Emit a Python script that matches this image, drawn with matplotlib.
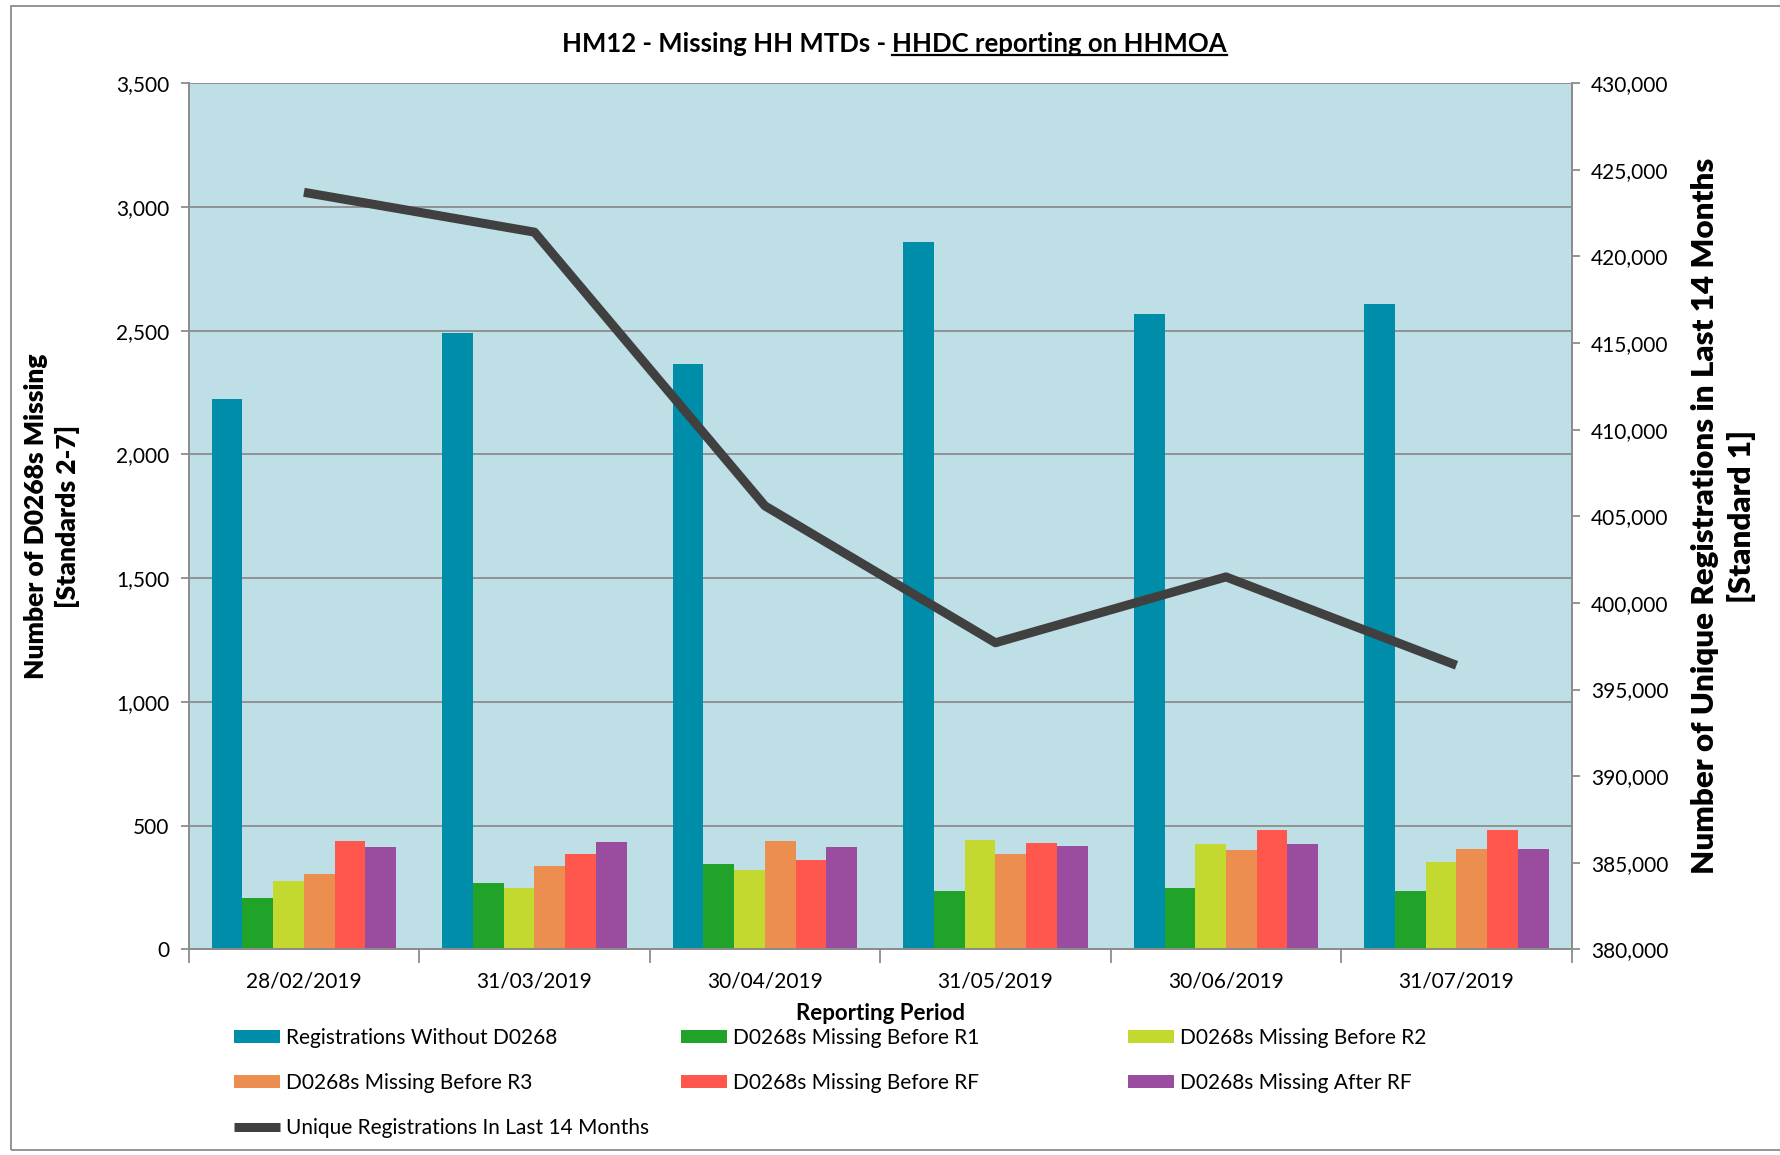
import numpy as np
import matplotlib
matplotlib.use("Agg")
import matplotlib.pyplot as plt
from matplotlib.patches import Rectangle
from matplotlib.lines import Line2D
from matplotlib.ticker import FuncFormatter, MultipleLocator

plt.rcParams['font.family'] = ['Lato', 'DejaVu Sans']

periods = ["28/02/2019", "31/03/2019", "30/04/2019", "31/05/2019", "30/06/2019", "31/07/2019"]
reg_without = [2225, 2491, 2367, 2858, 2569, 2606]
miss_r1 = [209, 268, 344, 238, 250, 238]
miss_r2 = [275, 250, 322, 443, 426, 355]
miss_r3 = [303, 339, 438, 384, 403, 407]
miss_rf = [438, 386, 362, 431, 484, 484]
miss_after_rf = [415, 433, 415, 419, 426, 407]
unique_regs = [423700, 421400, 405600, 397700, 401500, 396400]

series = [
    ("Registrations Without D0268", reg_without, "#008DA9"),
    ("D0268s Missing Before R1", miss_r1, "#21A329"),
    ("D0268s Missing Before R2", miss_r2, "#C3D930"),
    ("D0268s Missing Before R3", miss_r3, "#EC8E50"),
    ("D0268s Missing Before RF", miss_rf, "#FF574D"),
    ("D0268s Missing After RF", miss_after_rf, "#9A4C9E"),
]

fig = plt.figure(figsize=(17.8, 11.55), dpi=100)
ax = fig.add_axes([0.106, 0.178, 0.777, 0.75])
ax.set_facecolor("#BEDFE6")

x = np.arange(len(periods))
w = 0.8 / 6
handles = {}
for i, (name, vals, col) in enumerate(series):
    b = ax.bar(x - 0.4 + w * (i + 0.5), vals, w, color=col, zorder=2, label=name)
    handles[name] = b

ax.set_ylim(0, 3500)
ax.set_xlim(-0.5, len(periods) - 0.5)
ax.yaxis.set_major_locator(MultipleLocator(500))
ax.yaxis.set_major_formatter(FuncFormatter(lambda v, p: f"{int(v):,}"))
ax.grid(axis="y", color="#8C8C8C", lw=1.3, zorder=1)
ax.set_xticks(x)
ax.set_xticklabels(periods)
ax.set_xticks(np.arange(-0.5, len(periods)), minor=True)
ax.tick_params(axis="x", which="major", length=0, pad=16, labelsize=15)
ax.tick_params(axis="x", which="minor", length=10, color="#8C8C8C", width=1.3)
ax.tick_params(axis="y", length=6, color="#8C8C8C", width=1.3, labelsize=15, pad=8)
for s in ["left", "bottom", "right"]:
    ax.spines[s].set_color("#8C8C8C")
    ax.spines[s].set_linewidth(1.3)
ax.spines["top"].set_visible(False)

ax.set_ylabel("Number of D0268s Missing\n[Standards 2-7]", fontsize=19, fontweight="heavy",
              labelpad=26, linespacing=1.3)
ax.set_xlabel("Reporting Period", fontsize=16, fontweight="bold", labelpad=8)

ax2 = ax.twinx()
line, = ax2.plot(x, unique_regs, color="#404040", lw=6.5, zorder=5,
                 solid_capstyle="butt", label="Unique Registrations In Last 14 Months")
ax2.set_ylim(380000, 430000)
ax2.yaxis.set_major_locator(MultipleLocator(5000))
ax2.yaxis.set_major_formatter(FuncFormatter(lambda v, p: f"{int(v):,}"))
ax2.tick_params(axis="y", length=6, color="#8C8C8C", width=1.3, labelsize=15, pad=8)
for s in ["left", "bottom", "right"]:
    ax2.spines[s].set_color("#8C8C8C")
    ax2.spines[s].set_linewidth(1.3)
ax2.spines["top"].set_visible(False)
ax2.set_ylabel("Number of Unique Registrations in Last 14 Months\n[Standard 1]",
               fontsize=22.5, fontweight="heavy", rotation=90, labelpad=16, linespacing=1.35)

# legend: three fixed columns, filled row by row
columns = [
    ["Registrations Without D0268", "D0268s Missing Before R3", None],
    ["D0268s Missing Before R1", "D0268s Missing Before RF"],
    ["D0268s Missing Before R2", "D0268s Missing After RF"],
]
col_x = [0.121, 0.372, 0.623]
for cx, names in zip(col_x, columns):
    hs, ls = [], []
    for n in names:
        if n is None:
            hs.append(line)
            ls.append(line.get_label())
        else:
            hs.append(handles[n])
            ls.append(n)
    fig.legend(hs, ls, ncol=1, loc="upper left", bbox_to_anchor=(cx, 0.126),
               frameon=False, fontsize=15, handlelength=2.2, handleheight=0.6,
               handletextpad=0.3, labelspacing=1.2)

# title with underlined second part
t1 = fig.text(0.5, 0.955, "HM12 - Missing HH MTDs - ", fontsize=18.5, fontweight="bold", ha="right", va="baseline")
t2 = fig.text(0.5, 0.955, "HHDC reporting on HHMOA", fontsize=18.5, fontweight="bold", ha="left", va="baseline")
fig.canvas.draw()
r = fig.canvas.get_renderer()
b1 = t1.get_window_extent(r)
b2 = t2.get_window_extent(r)
shift = (b1.width + b2.width) / 2 - b1.width
fw = fig.bbox.width
t1.set_x(0.5 + shift / fw)
t2.set_x(0.5 + shift / fw)
fig.canvas.draw()
b2 = t2.get_window_extent(r)
uy = (b2.y0 + 1) / fig.bbox.height
fig.add_artist(Line2D([b2.x0 / fw, b2.x1 / fw], [uy, uy], color="black", lw=1.6))

# outer chart border
fig.add_artist(Rectangle((0.006, 0.004), 1.2, 0.991, transform=fig.transFigure,
                         fill=False, edgecolor="#8C8C8C", lw=1.3))

fig.savefig("out.png", dpi=100)
